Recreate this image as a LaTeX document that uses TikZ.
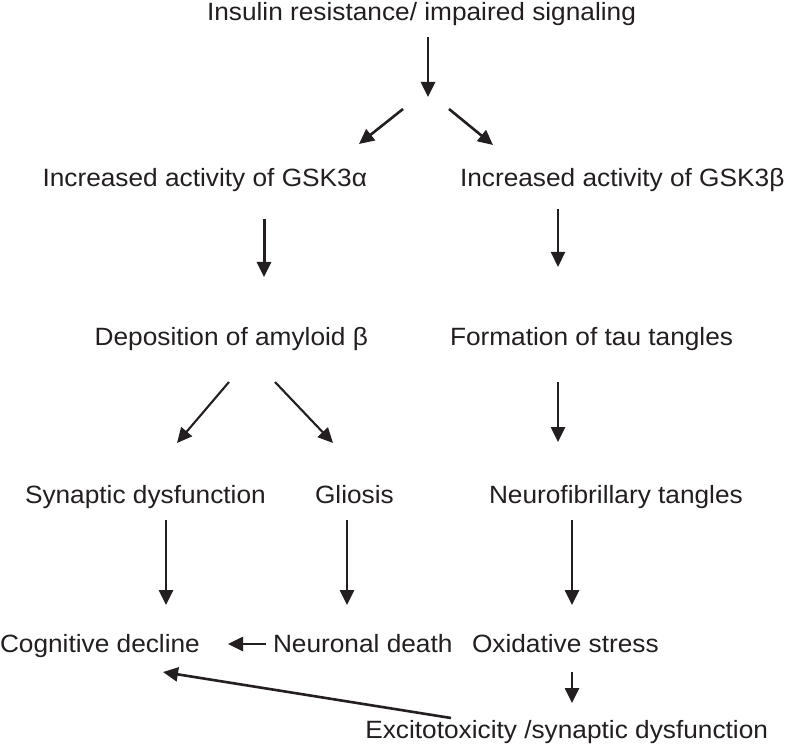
\documentclass[tikz,border=0pt]{standalone}
\usepackage{fontspec}
\setmainfont{Liberation Sans}[FakeStretch=1.05]
\usetikzlibrary{arrows.meta}
\definecolor{ink}{HTML}{231F20}
\begin{document}
\begin{tikzpicture}[x=1pt,y=-1pt,
  lbl/.style={inner sep=0pt,outer sep=0pt,text=ink,font=\fontsize{25}{30}\selectfont},
  arr/.style={draw=ink,line width=2.6pt,-{Triangle[length=15pt,width=14pt]}},
  thinarr/.style={arr,line width=2.1pt}]
\useasboundingbox[fill=white] (0,0) rectangle (790,746);
% texts
\node[lbl,anchor=base west] (title) at (207,21) {Insulin resistance/ impaired signaling};
\node[lbl,anchor=base east] (gska) at (367,187) {Increased activity of GSK3α};
\node[lbl,anchor=base west] (gskb) at (460,187) {Increased activity of GSK3β};
\node[lbl,anchor=base east] (dep) at (368,345) {Deposition of amyloid β};
\node[lbl,anchor=base west] (form) at (450,345) {Formation of tau tangles};
\node[lbl,anchor=base west] (syn) at (25,503) {Synaptic dysfunction};
\node[lbl,anchor=base west] (glio) at (315,503) {Gliosis};
\node[lbl,anchor=base west] (nft) at (489,503) {Neurofibrillary tangles};
\node[lbl,anchor=base west] (cog) at (0,652) {Cognitive decline};
\node[lbl,anchor=base west] (death) at (273,652) {Neuronal death};
\node[lbl,anchor=base west] (ox) at (472,652) {Oxidative stress};
\node[lbl,anchor=base east] (exc) at (768,738) {Excitotoxicity /synaptic dysfunction};
% connector end points
\coordinate (a1s) at (428,37);  \coordinate (a1e) at (428,97);
\coordinate (a2s) at (403,109); \coordinate (a2e) at (359,144);
\coordinate (a3s) at (449,109); \coordinate (a3e) at (493,145);
\coordinate (a4s) at (264,219); \coordinate (a4e) at (264,277);
\coordinate (a5s) at (558,209); \coordinate (a5e) at (558,267);
\coordinate (a6s) at (229,382); \coordinate (a6e) at (177,443);
\coordinate (a7s) at (275,382); \coordinate (a7e) at (333,443);
\coordinate (a8s) at (558,382); \coordinate (a8e) at (558,442);
\coordinate (a9s) at (166,520); \coordinate (a9e) at (166,605);
\coordinate (a10s) at (347,520); \coordinate (a10e) at (347,605);
\coordinate (a11s) at (572,520); \coordinate (a11e) at (572,605);
\coordinate (a12s) at (266,644); \coordinate (a12e) at (228,644);
\coordinate (a13s) at (572,672); \coordinate (a13e) at (572,703);
\coordinate (a14s) at (451,718); \coordinate (a14e) at (163,672);
% connectors
\draw[arr] (a1s) -- (a1e);
\draw[arr] (a2s) -- (a2e);
\draw[arr] (a3s) -- (a3e);
\draw[arr,line width=3pt] (a4s) -- (a4e);
\draw[thinarr] (a5s) -- (a5e);
\draw[thinarr] (a6s) -- (a6e);
\draw[thinarr] (a7s) -- (a7e);
\draw[arr] (a8s) -- (a8e);
\draw[arr] (a9s) -- (a9e);
\draw[arr] (a10s) -- (a10e);
\draw[arr] (a11s) -- (a11e);
\draw[arr] (a12s) -- (a12e);
\draw[arr] (a13s) -- (a13e);
\draw[arr] (a14s) -- (a14e);
\end{tikzpicture}
\end{document}
